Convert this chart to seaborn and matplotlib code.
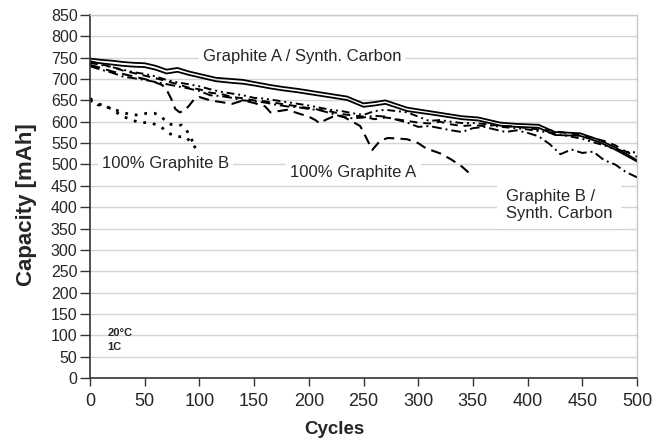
import numpy as np
import pandas as pd
import matplotlib
matplotlib.use("Agg")
import matplotlib.pyplot as plt
import seaborn as sns

# ---------------- data ----------------
# Graphite A / Synth. Carbon (solid, two cells)
ga_sc1_cyc = [0, 10, 20, 30, 40, 50, 60, 70, 80, 90, 100, 115, 130, 140, 150, 165, 175, 190, 205, 225,
              235, 250, 260, 270, 290, 315, 340, 355, 375, 390, 410, 425, 448, 465, 480, 500]
ga_sc1_cap = [748, 745, 743, 740, 738, 737, 731, 722, 726, 718, 712, 703, 700, 698, 693, 686, 682, 677, 671, 663,
              659, 643, 646, 650, 633, 623, 613, 610, 598, 595, 593, 576, 573, 558, 540, 510]
ga_sc2_cyc = ga_sc1_cyc
ga_sc2_cap = [740, 737, 734, 731, 729, 728, 722, 713, 717, 710, 704, 695, 691, 689, 685, 678, 674, 669, 663, 655,
              651, 635, 638, 642, 625, 616, 606, 603, 591, 588, 586, 569, 567, 553, 535, 507]

cyc10 = list(range(0, 501, 10))
# Graphite B / Synth. Carbon (dash-dot, two cells)
gb_sc1_cap = [738, 733, 728, 722, 716, 712, 706, 698, 692, 688, 683, 676, 670, 666, 662, 656, 654, 650, 646, 642,
              638, 633, 628, 625, 620, 616, 625, 628, 625, 622, 612, 602, 604, 600, 597, 597, 595, 590, 587, 585,
              582, 578, 575, 570, 565, 560, 552, 545, 535, 530, 528]
gb_sc2_cap = [730, 722, 715, 706, 702, 698, 693, 688, 683, 678, 672, 662, 660, 656, 650, 648, 645, 640, 636, 634,
              630, 627, 620, 612, 608, 610, 614, 612, 605, 598, 588, 590, 585, 580, 576, 585, 588, 582, 576, 580,
              574, 566, 548, 524, 535, 527, 530, 510, 500, 482, 470]

# 100% Graphite A (dashed, two cells)
ga1_cyc = [0, 10, 20, 30, 40, 50, 60, 66, 70, 74, 78, 82, 86, 90, 95, 100, 110, 120, 130, 140, 150, 160, 165,
           170, 180, 190, 200, 206, 210, 215, 222, 230, 240, 247, 252, 258, 265, 272, 280, 290, 300, 307, 320,
           330, 340, 350]
ga1_cap = [733, 726, 718, 712, 706, 700, 692, 686, 675, 655, 630, 622, 626, 636, 652, 658, 650, 646, 642, 650,
           644, 636, 622, 624, 628, 620, 612, 604, 596, 604, 612, 614, 600, 590, 565, 534, 555, 562, 561, 559,
           550, 538, 526, 512, 495, 472]
ga2_cap = [742, 735, 728, 720, 714, 708, 702, 695, 688, 680, 676, 668, 665, 658, 655, 650, 648, 644, 640, 636,
           632, 628, 624, 618, 615, 612, 606, 610, 606, 602, 598, 596, 600, 594, 590, 592, 590, 592, 590, 588,
           585, 582, 580, 576, 572, 568, 562, 555, 545, 530, 518]

# 100% Graphite B (dotted, two cells)
gb1_cyc = [0, 7, 15, 23, 30, 38, 46, 52, 59, 65, 72, 78, 84, 88, 92, 97]
gb1_cap = [655, 640, 635, 628, 622, 616, 616, 620, 620, 612, 595, 592, 592, 582, 562, 540]
gb2_cyc = [0, 10, 20, 28, 38, 46, 55, 64, 72, 80, 87, 92, 98, 100]
gb2_cap = [650, 640, 630, 615, 604, 598, 598, 590, 573, 565, 565, 553, 534, 528]

x_ticks = list(range(0, 501, 50))
y_ticks = list(range(0, 851, 50))

# ---------------- plot ----------------
sns.set_theme(style="white")
plt.rcParams["font.family"] = ["Liberation Sans", "DejaVu Sans"]

fig = plt.figure(figsize=(6.67, 4.40), dpi=100)
ax = fig.add_axes([90 / 667, 1 - 378 / 440, 547 / 667, 363 / 440])

series = [
    (ga_sc1_cyc, ga_sc1_cap, "-", 1.3),
    (ga_sc2_cyc, ga_sc2_cap, "-", 1.3),
    (cyc10, gb_sc1_cap, (0, (4, 2, 1, 2, 1, 2)), 1.4),
    (cyc10, gb_sc2_cap, (0, (5, 2, 1, 2)), 1.4),
    (ga1_cyc, ga1_cap, (0, (5, 3)), 1.5),
    (cyc10, ga2_cap, (0, (4, 3)), 1.4),
    (gb1_cyc, gb1_cap, (0, (1, 2.5)), 2.0),
    (gb2_cyc, gb2_cap, (0, (1, 2.5)), 2.0),
]
for cyc, cap, ls, lw in series:
    df = pd.DataFrame({"Cycles": cyc, "Capacity": cap})
    sns.lineplot(data=df, x="Cycles", y="Capacity", ax=ax, color="black",
                 linestyle=ls, linewidth=lw, estimator=None, sort=False)

ax.set_xlim(0, 500)
ax.set_ylim(0, 850)
ax.set_xticks(x_ticks)
ax.set_yticks(y_ticks)
ax.tick_params(axis="x", labelsize=13, length=6, width=1, direction="out",
               color="#333333", pad=5, bottom=True)
ax.tick_params(axis="y", labelsize=11.5, length=7, width=1, direction="out",
               color="#333333", pad=2, left=True)
ax.yaxis.grid(True, color="#d4d4d4", linewidth=1)
ax.xaxis.grid(False)
for s in ["left", "bottom"]:
    ax.spines[s].set_color("#333333")
    ax.spines[s].set_linewidth(1.2)
for s in ["right", "top"]:
    ax.spines[s].set_color("#c8c8c8")
    ax.spines[s].set_linewidth(1)

ax.set_xlabel("Cycles", fontsize=13.5, fontweight="bold")
ax.set_ylabel("Capacity [mAh]", fontsize=16, fontweight="bold")
ax.xaxis.set_label_coords(0.446, -0.118)
ax.yaxis.set_label_coords(-0.097, 0.477)

box = dict(facecolor="white", edgecolor="none", pad=3)
ax.text(103, 752, "Graphite A / Synth. Carbon", fontsize=12, va="center", ha="left", bbox=box)
ax.text(11, 503, "100% Graphite B", fontsize=12, va="center", ha="left", bbox=box)
ax.text(183, 482, "100% Graphite A", fontsize=12, va="center", ha="left", bbox=box)
ax.text(380, 405, "Graphite B /\nSynth. Carbon", fontsize=12, va="center", ha="left",
        linespacing=1.15, bbox=dict(facecolor="white", edgecolor="none", pad=6), clip_on=False)
ax.text(16, 89, "20°C\n1C", fontsize=8, fontweight="bold", va="center", ha="left", linespacing=1.5)

fig.savefig("out.png", dpi=100)
